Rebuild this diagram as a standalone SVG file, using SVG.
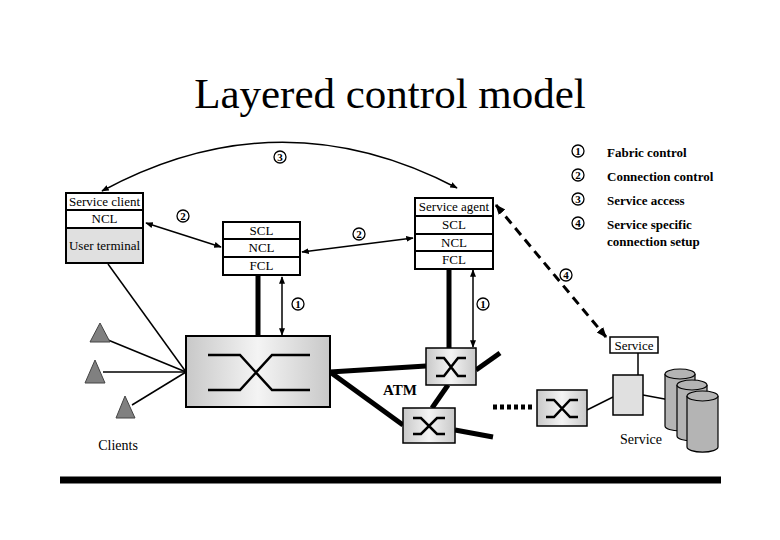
<svg xmlns="http://www.w3.org/2000/svg" width="780" height="540" viewBox="0 0 780 540">
<style>
text{font-family:"Liberation Serif",serif;fill:#000}
.t{font-size:13px;text-anchor:middle}
.b{fill:#fff;stroke:#000;stroke-width:2}
.g{fill:#e0e0e0;stroke:#000;stroke-width:2}
.th{stroke:#000;stroke-width:5;fill:none}
.ln{stroke:#000;stroke-width:1.5;fill:none}
.x{stroke:#000;stroke-width:2.5;fill:none}
.c{fill:#fff;stroke:#000;stroke-width:1.3}
.n{font-size:11px;font-weight:bold;text-anchor:middle}
.lg{font-size:13px;font-weight:bold}
.tri{fill:#808080;stroke:#444;stroke-width:1}
</style>
<defs>
<marker id="a" viewBox="0 0 10 10" refX="9" refY="5" markerWidth="5" markerHeight="5" orient="auto-start-reverse"><path d="M0,1 L10,5 L0,9 z" fill="#000"/></marker>
<marker id="d" viewBox="0 0 10 10" refX="9" refY="5" markerWidth="3.5" markerHeight="3.5" orient="auto-start-reverse"><path d="M0,1 L10,5 L0,9 z" fill="#000"/></marker>
<linearGradient id="sg" x1="0" y1="0" x2="1" y2="0"><stop offset="0" stop-color="#c8c8c8"/><stop offset="0.5" stop-color="#f4f4f4"/><stop offset="1" stop-color="#c8c8c8"/></linearGradient>
</defs>
<text x="390" y="108" font-size="43" text-anchor="middle">Layered control model</text>
<g id="legend">
<circle class="c" cx="578" cy="151" r="6"/><text class="n" x="578" y="155">1</text><text class="lg" x="607" y="157">Fabric control</text>
<circle class="c" cx="578" cy="175" r="6"/><text class="n" x="578" y="179">2</text><text class="lg" x="607" y="181">Connection control</text>
<circle class="c" cx="578" cy="199" r="6"/><text class="n" x="578" y="203">3</text><text class="lg" x="607" y="205">Service access</text>
<circle class="c" cx="578" cy="223" r="6"/><text class="n" x="578" y="227">4</text><text class="lg" x="607" y="229">Service specific</text><text class="lg" x="607" y="246">connection setup</text>
</g>
<g id="connectors">
<path class="ln" d="M102,191 Q280,95 457,188" marker-start="url(#a)" marker-end="url(#a)"/>
<line class="ln" x1="146" y1="223" x2="221" y2="247" marker-start="url(#a)" marker-end="url(#a)"/>
<line class="ln" x1="302" y1="252" x2="413" y2="238" marker-start="url(#a)" marker-end="url(#a)"/>
<line class="th" x1="258" y1="275" x2="258" y2="336" stroke-width="3"/>
<line class="ln" x1="282" y1="277" x2="282" y2="335" stroke-width="1.2" marker-start="url(#a)" marker-end="url(#a)"/>
<line class="th" x1="449" y1="269" x2="449" y2="348" stroke-width="3"/>
<line class="ln" x1="473" y1="270" x2="473" y2="347" stroke-width="1.2" marker-start="url(#a)" marker-end="url(#a)"/>
<line x1="496" y1="205" x2="606" y2="337" stroke="#000" stroke-width="3" stroke-dasharray="9,6" marker-start="url(#d)" marker-end="url(#d)"/>
<line class="ln" x1="108" y1="264" x2="186" y2="372"/>
<line class="ln" x1="108" y1="340" x2="186" y2="372"/>
<line class="ln" x1="103" y1="372" x2="186" y2="372"/>
<line class="ln" x1="132" y1="405" x2="186" y2="372"/>
<line class="th" x1="330" y1="372" x2="426" y2="366"/>
<line class="th" x1="330" y1="372" x2="403" y2="425"/>
<line class="th" x1="448" y1="385" x2="432" y2="408"/>
<line class="th" x1="476" y1="370" x2="500" y2="353"/>
<line class="th" x1="455" y1="430" x2="493" y2="437"/>
<line x1="493" y1="407" x2="535" y2="407" stroke="#000" stroke-width="5" stroke-dasharray="4,3"/>
<line class="ln" x1="587" y1="410" x2="613" y2="397"/>
<line class="ln" x1="638" y1="353" x2="638" y2="375"/>
<line class="ln" x1="643" y1="395" x2="670" y2="400"/>
</g>
<g id="circles">
<circle class="c" cx="280" cy="157" r="6"/><text class="n" x="280" y="161">3</text>
<circle class="c" cx="183" cy="216" r="6"/><text class="n" x="183" y="220">2</text>
<circle class="c" cx="359" cy="234" r="6"/><text class="n" x="359" y="238">2</text>
<circle class="c" cx="298" cy="304" r="6"/><text class="n" x="298" y="308">1</text>
<circle class="c" cx="483" cy="304" r="6"/><text class="n" x="483" y="308">1</text>
<circle class="c" cx="566" cy="275" r="6"/><text class="n" x="566" y="279">4</text>
</g>
<g id="client">
<rect class="b" x="66" y="193" width="77" height="17"/><text class="t" x="104.5" y="206">Service client</text>
<rect class="b" x="66" y="210" width="77" height="18"/><text class="t" x="104.5" y="223">NCL</text>
<rect class="g" x="66" y="228" width="77" height="35"/><text class="t" x="104.5" y="250">User terminal</text>
</g>
<g id="middle">
<rect class="b" x="223" y="222" width="77" height="17"/><text class="t" x="261.5" y="235">SCL</text>
<rect class="b" x="223" y="239" width="77" height="18"/><text class="t" x="261.5" y="252">NCL</text>
<rect class="b" x="223" y="257" width="77" height="18"/><text class="t" x="261.5" y="270">FCL</text>
</g>
<g id="agent">
<rect class="b" x="415" y="198" width="78" height="18"/><text class="t" x="454" y="211">Service agent</text>
<rect class="b" x="415" y="216" width="78" height="18"/><text class="t" x="454" y="229">SCL</text>
<rect class="b" x="415" y="234" width="78" height="17"/><text class="t" x="454" y="247">NCL</text>
<rect class="b" x="415" y="251" width="78" height="18"/><text class="t" x="454" y="264">FCL</text>
</g>
<g id="clients">
<polygon class="tri" points="100,323 90,342 110,342"/>
<polygon class="tri" points="95,360 85,383 105,383"/>
<polygon class="tri" points="125,396 116,418 135,418"/>
<text x="118" y="450" font-size="14" text-anchor="middle">Clients</text>
</g>
<g id="bigswitch">
<rect x="186" y="336" width="144" height="71" fill="url(#sg)" stroke="#000" stroke-width="2"/>
<path class="x" d="M208,355 H240 L272,390 H310 M208,390 H240 L272,355 H310" stroke-width="3"/>
</g>
<g id="sw1"><rect x="426" y="348" width="50" height="37" fill="url(#sg)" stroke="#000" stroke-width="1.5"/><path class="x" d="M436,358 H444 L458,376 H466 M436,376 H444 L458,358 H466"/></g>
<g id="sw2"><rect x="403" y="408" width="52" height="35" fill="url(#sg)" stroke="#000" stroke-width="1.5"/><path class="x" d="M413,418 H421 L437,434 H445 M413,434 H421 L437,418 H445"/></g>
<g id="sw3"><rect x="537" y="390" width="50" height="36" fill="url(#sg)" stroke="#000" stroke-width="1.5"/><path class="x" d="M546,400 H554 L570,417 H578 M546,417 H554 L570,400 H578"/></g>
<text x="400" y="395" font-size="15" font-weight="bold" text-anchor="middle">ATM</text>
<g id="service">
<rect x="610" y="337" width="48" height="16" fill="#fff" stroke="#000" stroke-width="1.5"/><text class="t" x="634" y="350" font-size="12">Service</text>
<rect x="613" y="375" width="30" height="40" fill="#e0e0e0" stroke="#000" stroke-width="1.5"/>
<g fill="#b4b4b4" stroke="#000" stroke-width="1.2">
<path d="M665,374 V426 A15,5 0 0 0 695,426 V374"/><ellipse cx="680" cy="374" rx="15" ry="5"/>
<path d="M677,385 V436 A15,5 0 0 0 707,436 V385"/><ellipse cx="692" cy="385" rx="15" ry="5"/>
<path d="M687,396 V447 A15,5 0 0 0 718,447 V396"/><ellipse cx="702.5" cy="396" rx="15.5" ry="5"/>
</g>
<text x="641" y="444" font-size="14" text-anchor="middle">Service</text>
</g>
<line x1="60" y1="480" x2="721" y2="480" stroke="#000" stroke-width="7"/>
</svg>
